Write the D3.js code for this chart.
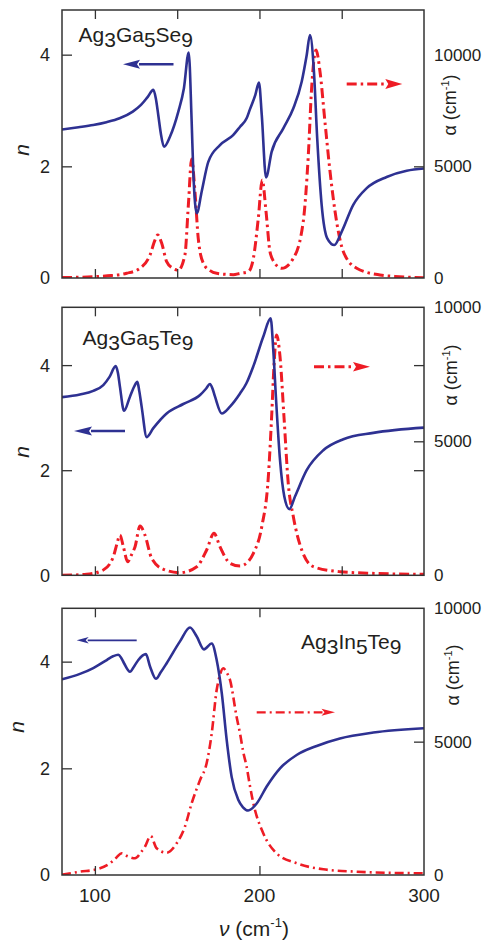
<!DOCTYPE html>
<html>
<head>
<meta charset="utf-8">
<script src="https://cdn.jsdelivr.net/npm/d3@7"></script>
<style>
  html, body { margin: 0; padding: 0; background: #fff; }
  svg { display: block; }
  text { font-family: "Liberation Sans", Arial, Helvetica, sans-serif; fill: #231f20; }
</style>
</head>
<body>
<svg id="chart" width="491" height="943"></svg>
<script>
// ---- Ag3Ga5Se9 ----
const seNu = [80, 90, 99, 107, 115, 123, 128, 132, 135.5, 137, 138.5, 140, 142, 145.6, 150.7, 154.1, 157, 158.8, 159.8, 161.9, 164.9, 168.9, 176, 184, 188.2, 192.2, 194.2, 197.5, 199.7, 201.4, 204, 207.4, 214.5, 220.6, 225.7, 228.7, 230.7, 233.1, 235.1, 237.8, 241.2, 245.5, 250, 257, 265.2, 277.3, 289.5, 300];
const seN  = [2.66, 2.70, 2.74, 2.79, 2.86, 2.98, 3.10, 3.24, 3.37, 3.22, 2.92, 2.60, 2.35, 2.53, 2.98, 3.40, 4.04, 2.80, 1.90, 1.16, 1.55, 2.08, 2.38, 2.56, 2.71, 2.86, 3.02, 3.28, 3.50, 2.92, 1.80, 2.26, 2.68, 3.04, 3.52, 3.99, 4.35, 3.70, 2.50, 1.31, 0.71, 0.59, 0.83, 1.31, 1.61, 1.81, 1.92, 1.96];
const seAlphaNu = [80, 100, 110, 119.3, 127.4, 133.5, 136.5, 138.2, 140.6, 143.6, 147, 150.7, 154.7, 156.8, 158.8, 160.8, 162.8, 165.9, 170, 174, 184.1, 188.2, 193.2, 196.3, 199.3, 201.7, 204, 206.4, 209, 213.5, 220.6, 226.6, 229.7, 231.7, 234.4, 236.8, 239.8, 242.9, 246.9, 251, 259.1, 273.3, 285, 300];
const seAlpha   = [20, 60, 110, 210, 434, 1030, 1700, 1925, 1553, 730, 450, 358, 1030, 3270, 5330, 3865, 1778, 658, 330, 210, 150, 210, 282, 882, 2673, 4388, 2969, 1178, 700, 434, 882, 2521, 5508, 8495, 10210, 9238, 7000, 4760, 2521, 1178, 434, 134, 60, 13];

// ---- Ag3Ga5Te9 ----
const teNu = [80, 90.9, 99, 105.1, 109, 112.6, 114, 115.2, 117.7, 121.3, 124, 125.8, 127, 128.4, 131.5, 135.5, 143.6, 153.7, 163.9, 167.5, 169.9, 171.5, 173, 177.1, 182.1, 188.2, 192, 196.3, 202.3, 206.8, 208.4, 210.1, 212.5, 215.1, 218.2, 221.6, 228.7, 238.8, 251, 269.2, 300];
const teN  = [3.39, 3.44, 3.51, 3.62, 3.78, 3.98, 3.85, 3.59, 3.13, 3.40, 3.60, 3.68, 3.50, 3.21, 2.63, 2.80, 3.08, 3.26, 3.43, 3.55, 3.64, 3.55, 3.40, 3.08, 3.21, 3.46, 3.65, 3.98, 4.54, 4.89, 4.29, 3.34, 2.19, 1.50, 1.26, 1.50, 2.00, 2.38, 2.59, 2.71, 2.81];
const teAlphaNu = [80, 95, 105.1, 111.2, 113.5, 115.2, 117.3, 119.9, 122.5, 124.4, 127.4, 130.4, 134.5, 141.6, 151.7, 161.9, 167.9, 172.4, 176, 182.1, 188.2, 193.2, 196.3, 201.4, 205.4, 207.4, 208.8, 210.4, 212.5, 214.9, 217.5, 220.6, 225.7, 232.8, 249, 270, 300];
const teAlpha   = [0, 37, 198, 694, 1200, 1504, 1067, 507, 800, 1067, 1839, 1504, 634, 224, 97, 321, 944, 1567, 1067, 448, 350, 520, 821, 1813, 3679, 5917, 7783, 8966, 8156, 5917, 3432, 2186, 944, 321, 134, 70, 37];

// ---- Ag3In5Te9 ----
const itNu = [80, 90.9, 99, 107.2, 111, 114.2, 116, 117.7, 121.3, 124, 126.4, 131, 133.5, 137.1, 140, 143.6, 151.7, 157.8, 161.9, 166.3, 171, 174, 177.1, 180.1, 183.1, 187.1, 190, 193.2, 198.3, 204.4, 212.5, 222.6, 234.8, 248.9, 269.2, 300];
const itN  = [3.67, 3.77, 3.88, 4.03, 4.10, 4.13, 4.07, 3.97, 3.81, 3.92, 4.03, 4.14, 3.91, 3.68, 3.80, 3.97, 4.38, 4.64, 4.47, 4.23, 4.34, 4.03, 3.41, 2.53, 1.84, 1.41, 1.27, 1.21, 1.34, 1.66, 2.00, 2.25, 2.42, 2.56, 2.67, 2.75];
const itAlphaNu = [80, 90.9, 101.1, 109.2, 113, 116.3, 120, 124.4, 128, 130.4, 133.9, 137.5, 143.6, 149.7, 154.7, 158.8, 163.9, 167.9, 171, 174, 176, 178, 180, 182.1, 186.1, 188.2, 190.2, 192.2, 194.2, 196.3, 202.3, 210.4, 222.6, 238.8, 259.1, 280, 300];
const itAlpha   = [10, 124, 214, 439, 650, 814, 700, 626, 850, 1061, 1463, 1001, 836, 1189, 1811, 2689, 3563, 4189, 5314, 6938, 7500, 7751, 7600, 7313, 5936, 5300, 4600, 4061, 3350, 2689, 1564, 814, 439, 214, 124, 80, 64];

// ---- axis ticks and labels ----
const nuDomain = [80, 300];
const nuTicksFull = [100, 150, 200, 250];
const nuTicksBottom = [100, 200];
const nuTickLabels = [100, 200, 300];
const nTickLabels = [0, 2, 4];
const alphaTickLabels = [0, 5000, 10000];
const compounds = [
  [["Ag", 0], ["3", 1], ["Ga", 0], ["5", 1], ["Se", 0], ["9", 1]],
  [["Ag", 0], ["3", 1], ["Ga", 0], ["5", 1], ["Te", 0], ["9", 1]],
  [["Ag", 0], ["3", 1], ["In", 0], ["5", 1], ["Te", 0], ["9", 1]]
];

const BLUE = "#2e3192";
const RED = "#ee1c25";
const FRAME = "#333333";

const svg = d3.select("#chart");
const x = d3.scaleLinear().domain(nuDomain).range([62, 424]);

const panels = [
  { top: 10, bottom: 278, nMax: 4.8, aMax: 12000, nu: seNu, n: seN, aNu: seAlphaNu, a: seAlpha,
    xt: nuTicksFull, mirrorN: false, label: compounds[0], lx: 78.5, ly: 41.5,
    nLabelX: 22, nLabelY: 150, aLabelX: 450, aLabelY: 105,
    blueArrow: { x1: 173.5, x2: 123, y: 64.3, w: 2.6, hl: 17, hw: 9 },
    redArrow:  { x1: 346.7, x2: 402.3, y: 84, w: 3, hl: 17, hw: 10 },
    redW: 3, blueW: 2.6, dash: "10,4,2.5,4" },
  { top: 307.3, bottom: 575.3, nMax: 5.1, aMax: 10000, nu: teNu, n: teN, aNu: teAlphaNu, a: teAlpha,
    xt: nuTicksFull, mirrorN: true, label: compounds[1], lx: 82.5, ly: 345,
    nLabelX: 22, nLabelY: 452, aLabelX: 450.5, aLabelY: 375,
    blueArrow: { x1: 125, x2: 74, y: 431, w: 2.6, hl: 18, hw: 9 },
    redArrow:  { x1: 314, x2: 370, y: 366.7, w: 3, hl: 17, hw: 9.5 },
    redW: 3, blueW: 2.6, dash: "10,4,2.5,4" },
  { top: 608.3, bottom: 875, nMax: 5, aMax: 10000, nu: itNu, n: itN, aNu: itAlphaNu, a: itAlpha,
    xt: nuTicksBottom, mirrorN: false, label: compounds[2], lx: 301, ly: 648.5,
    nLabelX: 17, nLabelY: 727, aLabelX: 453, aLabelY: 675,
    blueArrow: { x1: 136.7, x2: 76.7, y: 640.3, w: 1.8, hl: 12, hw: 6.5 },
    redArrow:  { x1: 256.7, x2: 335, y: 712.3, w: 2.2, hl: 13.5, hw: 7 },
    redW: 2.6, blueW: 2.6, dash: "9,4,2,4" }
];

function arrow(g, a, color, dash) {
  const dir = Math.sign(a.x2 - a.x1);
  const base = a.x2 - dir * a.hl;
  g.append("line")
    .attr("x1", a.x1).attr("x2", base + dir * 1)
    .attr("y1", a.y).attr("y2", a.y)
    .attr("stroke", color).attr("stroke-width", a.w)
    .attr("stroke-dasharray", dash || null);
  g.append("path")
    .attr("d", `M${a.x2},${a.y} L${base},${a.y - a.hw / 2} L${base + dir * 3},${a.y} L${base},${a.y + a.hw / 2} Z`)
    .attr("fill", color);
}

panels.forEach((p, i) => {
  const g = svg.append("g");
  const yN = d3.scaleLinear().domain([0, p.nMax]).range([p.bottom, p.top]);
  const yA = d3.scaleLinear().domain([0, p.aMax]).range([p.bottom, p.top]);

  const clipId = "clip" + i;
  svg.append("clipPath").attr("id", clipId)
    .append("rect").attr("x", 62).attr("y", p.top).attr("width", 362).attr("height", p.bottom - p.top);

  // absorption curve (right axis)
  const aLine = d3.line().x(d => x(d[0])).y(d => yA(d[1])).curve(d3.curveMonotoneX);
  g.append("path")
    .datum(d3.zip(p.aNu, p.a))
    .attr("clip-path", `url(#${clipId})`)
    .attr("d", aLine)
    .attr("fill", "none").attr("stroke", RED)
    .attr("stroke-width", p.redW).attr("stroke-dasharray", p.dash);

  // refractive index curve (left axis)
  const nLine = d3.line().x(d => x(d[0])).y(d => yN(d[1])).curve(d3.curveMonotoneX);
  g.append("path")
    .datum(d3.zip(p.nu, p.n))
    .attr("clip-path", `url(#${clipId})`)
    .attr("d", nLine)
    .attr("fill", "none").attr("stroke", BLUE)
    .attr("stroke-width", p.blueW).attr("stroke-linejoin", "round");

  // ticks pointing inwards on all four sides
  const tl = 9;
  const bottomAxis = d3.axisBottom(x).tickValues(p.xt).tickSize(-tl).tickFormat("");
  const topAxis = d3.axisTop(x).tickValues(p.xt).tickSize(-tl).tickFormat("");
  const leftAxis = d3.axisLeft(yN).tickValues([2, 4]).tickSize(-10).tickFormat("");
  const rightAxis = d3.axisRight(yA).tickValues([5000]).tickSize(-10).tickFormat("");
  [[bottomAxis, `translate(0,${p.bottom})`], [topAxis, `translate(0,${p.top})`],
   [leftAxis, "translate(62,0)"], [rightAxis, "translate(424,0)"]].forEach(([ax, tr]) => {
    const a = g.append("g").attr("transform", tr).call(ax);
    a.select(".domain").remove();
    a.selectAll("line").attr("stroke", FRAME).attr("stroke-width", 1.3);
  });
  if (p.mirrorN) {
    const m = g.append("g").attr("transform", "translate(424,0)")
      .call(d3.axisRight(yN).tickValues([2, 4]).tickSize(-10).tickFormat(""));
    m.select(".domain").remove();
    m.selectAll("line").attr("stroke", FRAME).attr("stroke-width", 1.3);
  }

  // frame
  g.append("rect")
    .attr("x", 62).attr("y", p.top).attr("width", 362).attr("height", p.bottom - p.top)
    .attr("fill", "none").attr("stroke", FRAME).attr("stroke-width", 1.5);

  // tick labels
  g.selectAll(".nl").data(nTickLabels).join("text")
    .attr("x", 50).attr("y", d => yN(d)).attr("dy", "0.36em")
    .attr("text-anchor", "end").attr("font-size", 18).text(d => d);
  g.selectAll(".al").data(alphaTickLabels).join("text")
    .attr("x", 434).attr("y", d => yA(d)).attr("dy", "0.36em")
    .attr("text-anchor", "start").attr("font-size", 17).text(d => d);

  // axis titles
  g.append("text")
    .attr("transform", `translate(${p.nLabelX},${p.nLabelY}) rotate(-90)`)
    .attr("text-anchor", "middle").attr("dy", "0.35em")
    .attr("font-size", 21).attr("font-style", "italic").text("n");
  const at = g.append("text")
    .attr("transform", `translate(${p.aLabelX},${p.aLabelY}) rotate(-90)`)
    .attr("text-anchor", "middle").attr("dy", "0.35em").attr("font-size", 18);
  at.append("tspan").text("α (cm");
  at.append("tspan").attr("font-size", 11).attr("dy", -7).text("-1");
  at.append("tspan").attr("dy", 7).text(")");

  // compound name with lowered subscripts
  const ct = g.append("text").attr("x", p.lx).attr("y", p.ly).attr("font-size", 21);
  let prev = 0;
  p.label.forEach(([s, sub]) => {
    ct.append("tspan").attr("dy", (sub - prev) * 5).text(s);
    prev = sub;
  });

  // direction arrows
  arrow(g, p.blueArrow, BLUE, null);
  arrow(g, p.redArrow, RED, p.dash);
});

// bottom axis labels
svg.selectAll(".xl").data(nuTickLabels).join("text")
  .attr("x", d => x(d)).attr("y", 902)
  .attr("text-anchor", "middle").attr("font-size", 19).text(d => d);

const xt = svg.append("text").attr("x", 219).attr("y", 936)
  .attr("text-anchor", "start").attr("font-size", 21);
xt.append("tspan").attr("font-style", "italic").text("ν");
xt.append("tspan").text(" (cm");
xt.append("tspan").attr("font-size", 13).attr("dy", -9).text("-1");
xt.append("tspan").attr("dy", 9).text(")");
</script>
</body>
</html>
